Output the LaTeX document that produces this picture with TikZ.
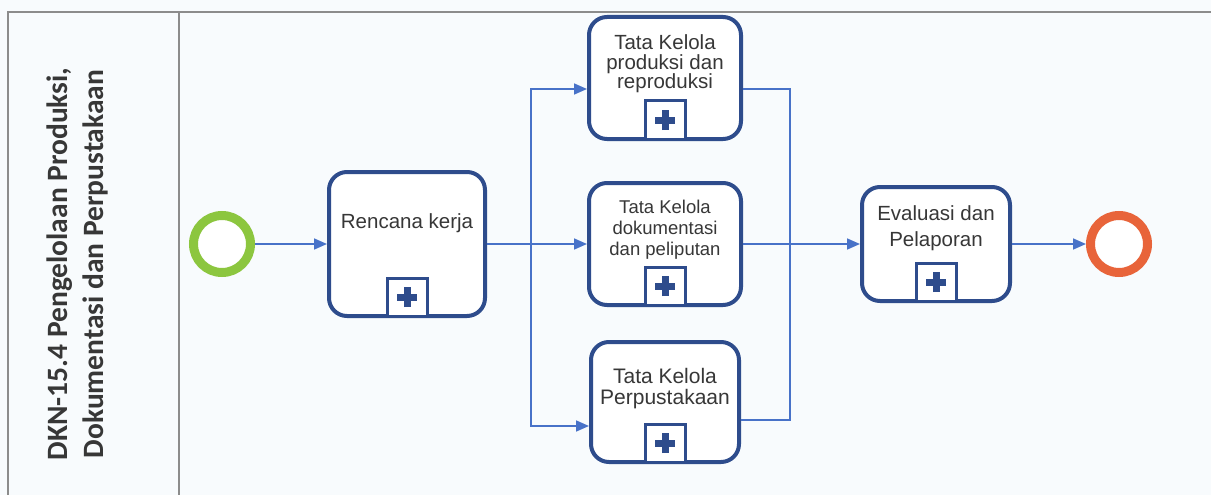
\documentclass[tikz,border=0pt]{standalone}
\usepackage{fontspec}
\setmainfont{Liberation Sans}
\newfontfamily\lanefont{Carlito}
\usepackage{tikz}
\usetikzlibrary{arrows.meta,positioning,calc}
\definecolor{taskblue}{RGB}{46,76,140}
\definecolor{flowblue}{RGB}{72,114,200}
\definecolor{startgreen}{RGB}{140,198,63}
\definecolor{endorange}{RGB}{232,100,58}
\definecolor{lanegray}{RGB}{140,140,140}
\definecolor{textgray}{RGB}{55,55,55}
\definecolor{paper}{RGB}{248,251,253}

\begin{document}
\begin{tikzpicture}[x=1pt, y=-1pt]
\tikzstyle{task} = [rectangle, rounded corners=18pt, draw=taskblue, line width=4pt, fill=white, text=textgray, align=center, text depth=32pt, font=\fontsize{20.5}{19.5}\selectfont]
\tikzstyle{event} = [circle, minimum size=57pt, line width=9pt, fill=white]
\tikzstyle{arrow} = [line width=1.6pt, draw=flowblue, -{Triangle[length=13pt,width=11pt]}]
\tikzstyle{flow} = [line width=1.6pt, draw=flowblue]
\tikzstyle{lane} = [line width=1.6pt, draw=lanegray]
\tikzstyle{marker} = [line width=3pt, draw=taskblue, fill=white]
\tikzstyle{plus} = [line width=7pt, draw=taskblue]

\fill [paper] (0,0) rectangle (1211,495);
\useasboundingbox (0,0) rectangle (1211,495);
\draw [lane] (1211,12) -- (8,12) -- (8,495);
\draw [lane] (179,12) -- (179,495);

\node (LaneTitle) [rotate=90, align=center, text=textgray, font=\lanefont\bfseries\fontsize{29.5}{36}\selectfont] at (77,264) {DKN-15.4 Pengelolaan Produksi,\\Dokumentasi dan Perpustakaan};

\node (Start) [event, draw=startgreen] at (222,244) {};
\node (Rencana) [task, right=72pt of Start, minimum width=156pt, minimum height=144pt, text depth=46pt] {Rencana kerja};
\node (Dokumentasi) [task, right=100pt of Rencana, minimum width=152pt, minimum height=122pt, font=\fontsize{18.5}{21}\selectfont] {Tata Kelola\\dokumentasi\\dan peliputan};
\node (Produksi) [task, above=40pt of Dokumentasi, minimum width=152pt, minimum height=122pt] {Tata Kelola\\produksi dan\\reproduksi};
\node (Perpustakaan) [task, below=33pt of Dokumentasi, minimum width=148pt, minimum height=120pt, font=\fontsize{21}{21}\selectfont] {Tata Kelola\\Perpustakaan};
\node (Evaluasi) [task, right=117pt of Dokumentasi, minimum width=148pt, minimum height=114pt, text depth=36pt, font=\fontsize{20.5}{26}\selectfont] {Evaluasi dan\\Pelaporan};
\node (End) [event, draw=endorange, right=74pt of Evaluasi] {};

\foreach \t in {Rencana,Produksi,Dokumentasi,Perpustakaan,Evaluasi} {
  \draw [marker] ([xshift=-20pt,yshift=2pt]\t.south) rectangle ([xshift=20pt,yshift=40pt]\t.south);
  \draw [plus] ([yshift=11pt]\t.south) -- ([yshift=31pt]\t.south);
  \draw [plus] ([xshift=-10pt,yshift=21pt]\t.south) -- ([xshift=10pt,yshift=21pt]\t.south);
}

\coordinate (Split) at ([xshift=44pt]Rencana.east);
\coordinate (Merge) at ([xshift=47pt]Dokumentasi.east);

\draw [arrow] (Start) -- (Rencana);
\draw [arrow] (Rencana.east) -- (Dokumentasi.west);
\draw [arrow] (Split) |- ([yshift=-11pt]Produksi.west);
\draw [arrow] (Split) |- ([yshift=-24pt]Perpustakaan.west);
\draw [flow] ([yshift=-11pt]Produksi.east) -| (Merge);
\draw [flow] ([yshift=-18pt]Perpustakaan.east) -| (Merge);
\draw [arrow] (Dokumentasi.east) -- (Evaluasi.west);
\draw [arrow] (Evaluasi) -- (End);
\end{tikzpicture}
\end{document}
